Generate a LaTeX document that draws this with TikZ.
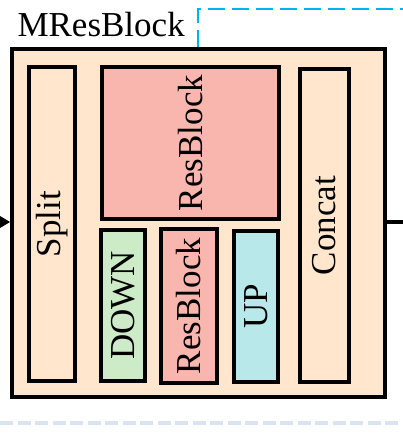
\documentclass[tikz,border=0pt]{standalone}
\usepackage{fontspec}
\setmainfont{Liberation Serif}
\usetikzlibrary{positioning,arrows.meta}
\definecolor{blockbg}{HTML}{FFE6CC}
\definecolor{resred}{HTML}{F9B6AE}
\definecolor{downgreen}{HTML}{CDEBC6}
\definecolor{upcyan}{HTML}{B9E8EA}
\definecolor{linkcyan}{HTML}{00B0F0}
\definecolor{sepblue}{HTML}{DAE3F3}

\begin{document}
\begin{tikzpicture}[x=1pt, y=-1pt, font=\fontsize{35}{42}\selectfont,
	blk/.style={draw, line width=3.6pt, inner sep=0pt},
	vblk/.style={blk, rotate=90}]
	\useasboundingbox (0,0) rectangle (403,436);
	% outer block
	\node [blk, fill=blockbg, minimum width=373pt, minimum height=348pt] (outer) at (198.5,223) {};
	\node [anchor=base west] (title) at (14,37) {MResBlock};
	% inner blocks
	\node [vblk, fill=blockbg, minimum width=314pt, minimum height=46pt] (split) at (52,224) {Split};
	\node [vblk, fill=resred, minimum width=152pt, minimum height=177pt] (resA) at (190.5,143) {ResBlock};
	\node [vblk, fill=downgreen, minimum width=151pt, minimum height=44pt] (down) at (123,305.5) {DOWN};
	\node [vblk, fill=resred, minimum width=154pt, minimum height=56pt] (resB) at (189,306) {ResBlock};
	\node [vblk, fill=upcyan, minimum width=151pt, minimum height=44pt] (up) at (256,306.5) {UP};
	\node [vblk, fill=blockbg, minimum width=313pt, minimum height=49pt] (concat) at (324.5,225.5) {Concat};
	% connectors
	\coordinate (in) at (0,222);
	\coordinate (out) at (403,222);
	\coordinate (corner) at (198,9);
	\coordinate (skip) at (403,9);
	\draw [line width=3.5pt, -{Triangle[length=10pt,width=11pt]}] (in) -- (outer.west |- in);
	\draw [line width=3.5pt] (outer.east |- out) -- (out);
	\draw [linkcyan, line width=2pt, dash pattern=on 17pt off 7pt] (outer.north -| corner) -- (corner) -- (skip);
	% separator
	\coordinate (sepL) at (0,423);
	\coordinate (sepR) at (403,423);
	\draw [sepblue, line width=4pt, dash pattern=on 13pt off 4.5pt] (sepL) -- (sepR);
\end{tikzpicture}
\end{document}
